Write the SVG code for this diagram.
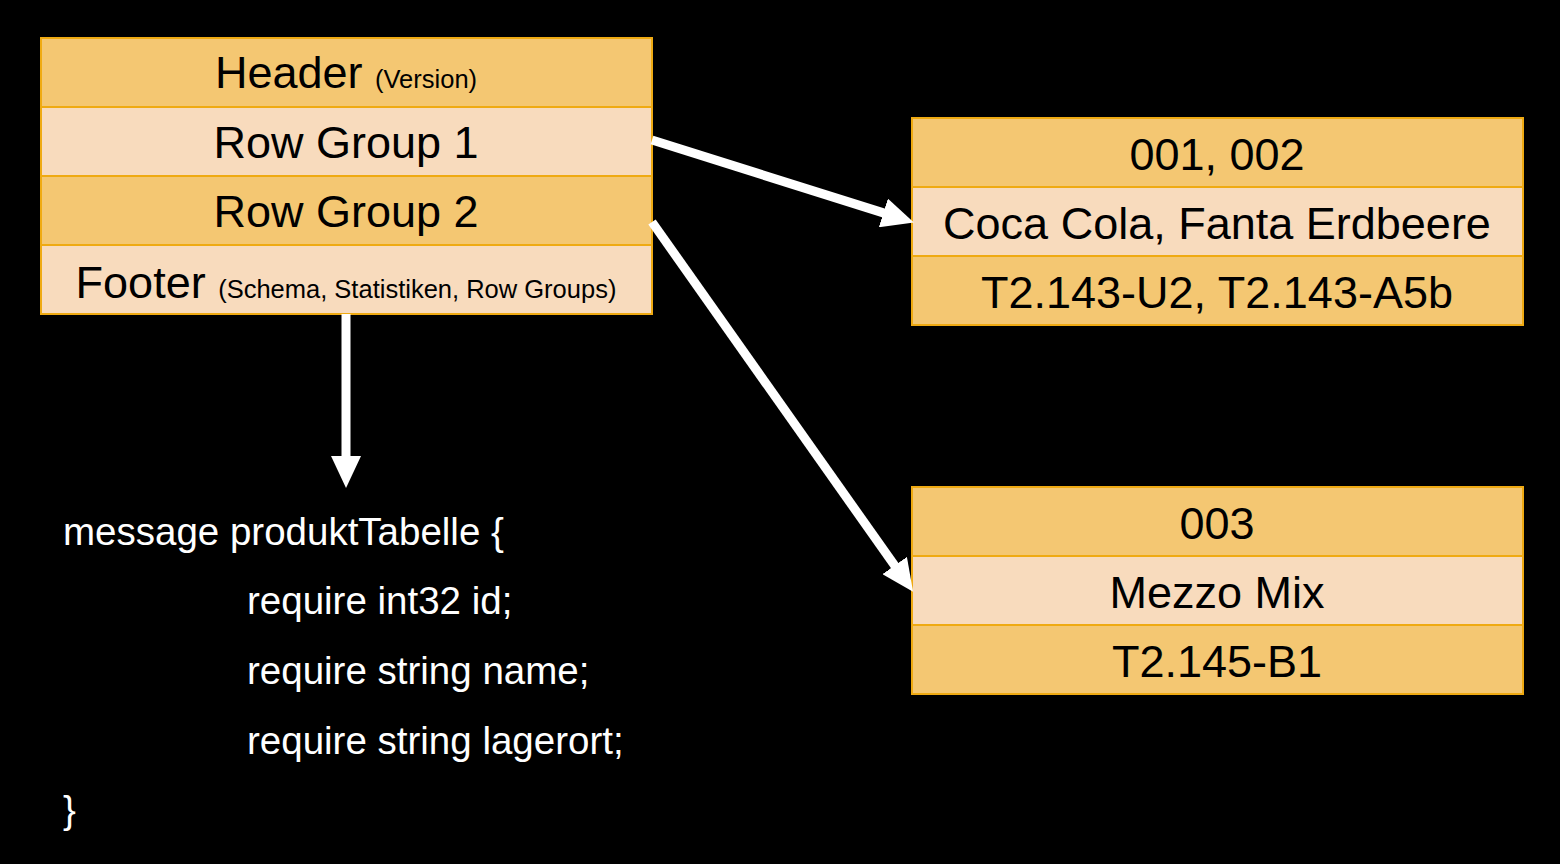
<svg xmlns="http://www.w3.org/2000/svg" width="1560" height="864" viewBox="0 0 1560 864">
<style>
.dark{fill:#F4C772;stroke:#EFAA12;stroke-width:2}
.light{fill:#F8DBBD;stroke:#EFAA12;stroke-width:2}
.t{font-family:"Liberation Sans",Arial,sans-serif;font-size:45px;fill:#000;text-anchor:middle}
.s{font-size:25.5px}
.code{font-family:"Liberation Sans",Arial,sans-serif;font-size:38.5px;fill:#fff}
.arr{stroke:#fff;stroke-width:9;fill:none;marker-end:url(#ah)}
</style>
<defs>
<marker id="ah" viewBox="0 0 32 30" refX="10" refY="15" markerWidth="32" markerHeight="30" markerUnits="userSpaceOnUse" orient="auto">
<path d="M0,0 L32,15 L0,30 Z" fill="#fff"/>
</marker>
</defs>
<rect x="0" y="0" width="1560" height="864" fill="#000"/>
<g id="parquet-file">
<rect class="dark" x="41" y="38" width="611" height="69"/>
<rect class="light" x="41" y="107" width="611" height="69"/>
<rect class="dark" x="41" y="176" width="611" height="69"/>
<rect class="light" x="41" y="245" width="611" height="69"/>
<text class="t" x="346" y="88">Header <tspan class="s">(Version)</tspan></text>
<text class="t" x="346" y="158">Row Group 1</text>
<text class="t" x="346" y="227">Row Group 2</text>
<text class="t" x="346" y="298">Footer <tspan class="s">(Schema, Statistiken, Row Groups)</tspan></text>
</g>
<g id="row-group-1">
<rect class="dark" x="912" y="118" width="611" height="69"/>
<rect class="light" x="912" y="187" width="611" height="69"/>
<rect class="dark" x="912" y="256" width="611" height="69"/>
<text class="t" x="1217" y="170">001, 002</text>
<text class="t" x="1217" y="239">Coca Cola, Fanta Erdbeere</text>
<text class="t" x="1217" y="308">T2.143-U2, T2.143-A5b</text>
</g>
<g id="row-group-2">
<rect class="dark" x="912" y="487" width="611" height="69"/>
<rect class="light" x="912" y="556" width="611" height="69"/>
<rect class="dark" x="912" y="625" width="611" height="69"/>
<text class="t" x="1217" y="539">003</text>
<text class="t" x="1217" y="608">Mezzo Mix</text>
<text class="t" x="1217" y="677">T2.145-B1</text>
</g>
<g id="schema">
<text class="code" x="63" y="545">message produktTabelle {</text>
<text class="code" x="247" y="614">require int32 id;</text>
<text class="code" x="247" y="684">require string name;</text>
<text class="code" x="247" y="754">require string lagerort;</text>
<text class="code" x="63" y="823">}</text>
</g>
<g id="connectors">
<path class="arr" d="M652,140 L892.9,215.9"/>
<path class="arr" d="M652,222 L900.4,573.7"/>
<path class="arr" d="M346,314 L346,466"/>
</g>
</svg>
